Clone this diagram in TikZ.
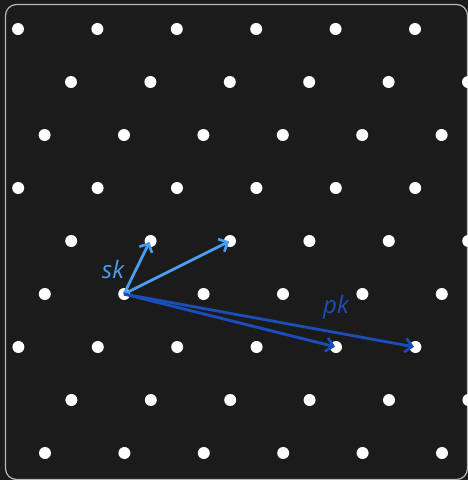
\documentclass[tikz,border=0pt]{standalone}
\usepackage{fontspec}
\setmainfont{Open Sans}
\usetikzlibrary{arrows.meta}
\definecolor{bg}{HTML}{1B1B1B}
\definecolor{skc}{HTML}{4A9EEF}
\definecolor{pkc}{HTML}{1B4DB8}
\definecolor{frame}{HTML}{B8B8B8}
\tikzset{
  dot/.style={circle,fill=white,inner sep=0pt,minimum size=12pt},
  vec/.style={line width=2.8pt,-{Straight Barb[length=7pt,width=14pt,line width=2.6pt]},shorten >=1pt},
  lbl/.style={font=\fontsize{24}{28}\selectfont\itshape}
}
\begin{document}
\begin{tikzpicture}[x=1pt,y=-1pt]
\fill[bg] (0,0) rectangle (468,480);
\useasboundingbox (0,0) rectangle (468,480);
\draw[frame,line width=1.2pt,rounded corners=11pt] (5.5,4.5) rectangle (467.5,479.5);
\begin{scope}
\clip (5.5,4.5) rectangle (468,480);
\foreach \r in {0,...,8}{
  \pgfmathsetmacro{\yy}{29+53*\r}
  \pgfmathsetmacro{\off}{mod(18+53*\r,79.4)}
  \foreach \c in {-1,...,6}{
    \pgfmathsetmacro{\xx}{\off+79.4*\c}
    \node[dot] (d-\r-\c) at (\xx,\yy) {};
  }
}
\end{scope}
\coordinate (o) at (124,294);
\coordinate (s1) at (150,241);
\coordinate (s2) at (230,241);
\coordinate (p1) at (336,347);
\coordinate (p2) at (415,347);
\draw[vec,skc] (o) -- (s1);
\draw[vec,skc] (o) -- (s2);
\draw[vec,pkc] (o) -- (p1);
\draw[vec,pkc] (o) -- (p2);
\node[lbl,skc] (sk) at (113,269) {sk};
\node[lbl,pkc] (pk) at (336,307) {pk};
\end{tikzpicture}
\end{document}
